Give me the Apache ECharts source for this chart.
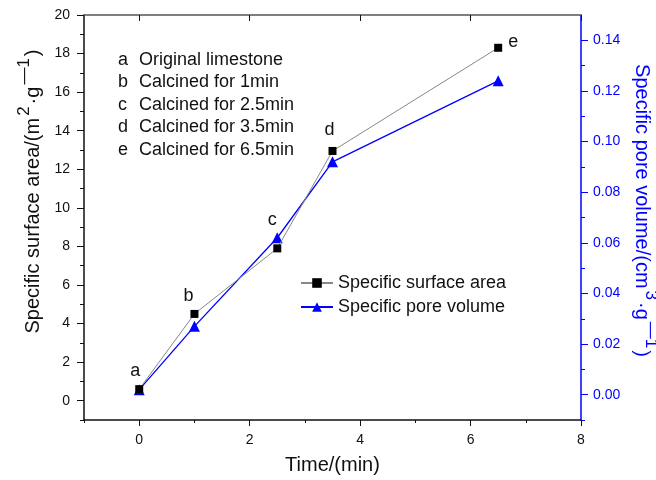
<!DOCTYPE html>
<html>
<head>
<meta charset="utf-8">
<title>Specific surface area / pore volume</title>
<script src="https://cdn.jsdelivr.net/npm/echarts@6/dist/echarts.min.js"></script>
<style>
  html, body { margin: 0; padding: 0; background: #fff; }
  #chart { width: 656px; height: 480px; }
</style>
</head>
<body>
<div id="chart"></div>
<script>
  // calcination time (min)
  var times = [0, 1, 2.5, 3.5, 6.5];
  var pointLetters = ['a', 'b', 'c', 'd', 'e'];
  // m2/g
  var surfaceArea = [0.6, 4.5, 7.9, 12.95, 18.3];
  // cm3/g
  var poreVolume = [0.002, 0.027, 0.062, 0.092, 0.124];

  var xTicks = [0, 2, 4, 6, 8];
  var xMinorTicks = [-1, 1, 3, 5, 7];
  var leftTicks = [0, 2, 4, 6, 8, 10, 12, 14, 16, 18, 20];
  var leftMinorTicks = [-1, 1, 3, 5, 7, 9, 11, 13, 15, 17, 19];
  var rightTicks = [0, 0.02, 0.04, 0.06, 0.08, 0.10, 0.12, 0.14];
  var rightMinorTicks = [-0.01, 0.01, 0.03, 0.05, 0.07, 0.09, 0.11, 0.13];

  var noteLetters = ['a', 'b', 'c', 'd', 'e'];
  var noteTexts = ['Original limestone', 'Calcined for 1min', 'Calcined for 2.5min',
                   'Calcined for 3.5min', 'Calcined for 6.5min'];

  var FONT = "'Liberation Sans', Arial, sans-serif";
  var BLUE = '#0000ff';
  var INK = '#111';

  var chart = echarts.init(document.getElementById('chart'));

  // where the a..e letters sit around each square
  var labelPlace = [
    {position: 'top', offset: [-4, 0]},
    {position: 'top', offset: [-6, 0]},
    {position: 'top', offset: [-5, -10]},
    {position: 'top', offset: [-3, -3]},
    {position: 'right', offset: [1, -6]}
  ];

  var surfData = times.map(function (t, i) {
    return {
      value: [t, surfaceArea[i]],
      label: {
        show: true,
        formatter: pointLetters[i],
        position: labelPlace[i].position,
        offset: labelPlace[i].offset,
        distance: 5,
        color: INK,
        fontSize: 18,
        fontFamily: FONT
      }
    };
  });
  var poreData = times.map(function (t, i) { return [t, poreVolume[i]]; });

  var notes = [];
  noteLetters.forEach(function (l, i) {
    notes.push({
      type: 'text', left: 118, top: 51 + i * 22.5,
      style: {text: l, fontSize: 18, fontFamily: FONT, fill: INK}
    });
    notes.push({
      type: 'text', left: 139, top: 51 + i * 22.5,
      style: {text: noteTexts[i], fontSize: 18, fontFamily: FONT, fill: INK}
    });
  });

  function minorAxis(base, ticks, len, color) {
    return Object.assign({}, base, {
      axisLine: {show: false, onZero: false},
      axisLabel: {show: false},
      splitLine: {show: false},
      axisTick: {show: true, inside: false, length: len, customValues: ticks,
                 lineStyle: {color: color, width: 1}}
    });
  }

  // rich styles for the rotated axis titles with superscripts
  function titleRich(color) {
    return {
      n: {fontSize: 20, fontFamily: FONT, color: color, lineHeight: 28, verticalAlign: 'bottom'},
      s: {fontSize: 17, fontFamily: FONT, color: color, lineHeight: 14, verticalAlign: 'top',
          padding: [0, 2, 0, 2]}
    };
  }

  var bottomX = {type: 'value', position: 'bottom', min: -1, max: 8};
  var leftY = {type: 'value', position: 'left', min: -1, max: 20};
  var rightY = {type: 'value', position: 'right', min: -0.01, max: 0.15};

  chart.setOption({
    animation: false,
    backgroundColor: '#fff',
    textStyle: {fontFamily: FONT},
    grid: {left: 84, right: 75, top: 15, bottom: 60, containLabel: false, outerBoundsMode: 'none'},
    graphic: notes,
    legend: {
      orient: 'vertical',
      left: 295, top: 269,
      itemWidth: 32, itemHeight: 12, itemGap: 6,
      textStyle: {fontSize: 18, fontFamily: FONT, color: INK},
      data: ['Specific surface area', 'Specific pore volume']
    },
    xAxis: [
      Object.assign({}, bottomX, {
        name: 'Time/(min)',
        nameLocation: 'middle',
        nameGap: 35,
        nameTextStyle: {fontSize: 20, fontFamily: FONT, color: INK},
        axisLine: {onZero: false, lineStyle: {color: INK, width: 1.5}},
        axisTick: {show: true, inside: false, length: 6, customValues: xTicks,
                   lineStyle: {color: INK, width: 1}},
        axisLabel: {customValues: xTicks, margin: 13, fontSize: 14, color: INK},
        splitLine: {show: false}
      }),
      minorAxis(bottomX, xMinorTicks, 3, INK),
      {
        type: 'value', position: 'top', min: -1, max: 8,
        axisLine: {onZero: false, lineStyle: {color: '#555', width: 1.5}},
        axisTick: {show: true, inside: true, length: 6, customValues: xTicks,
                   lineStyle: {color: INK, width: 1}},
        axisLabel: {show: false},
        splitLine: {show: false}
      }
    ],
    yAxis: [
      Object.assign({}, leftY, {
        name: '{n|Specific surface area/(m}{s|2}{n|·g}{s|—1}{n|)}',
        nameLocation: 'middle',
        nameRotate: 90,
        nameGap: 39,
        nameTextStyle: {padding: [0, 0, 0, 52], rich: titleRich(INK)},
        axisLine: {show: true, onZero: false, lineStyle: {color: INK, width: 1.5}},
        axisTick: {show: true, inside: false, length: 7, customValues: leftTicks,
                   lineStyle: {color: INK, width: 1}},
        axisLabel: {customValues: leftTicks, margin: 14, fontSize: 14, color: INK},
        splitLine: {show: false}
      }),
      minorAxis(leftY, leftMinorTicks, 4, INK),
      Object.assign({}, rightY, {
        name: '{n|Specific pore volume/(cm}{s|3}{n|·g}{s|—1}{n|)}',
        nameLocation: 'middle',
        nameRotate: -90,
        nameGap: 46,
        nameTextStyle: {padding: [0, 14, 0, 0], rich: titleRich(BLUE)},
        axisLine: {show: true, onZero: false, lineStyle: {color: BLUE, width: 1.5}},
        axisTick: {show: true, inside: false, length: 7, customValues: rightTicks,
                   lineStyle: {color: BLUE, width: 1}},
        axisLabel: {
          customValues: rightTicks, margin: 12, fontSize: 14, color: BLUE,
          formatter: function (v) { return v.toFixed(2); }
        },
        splitLine: {show: false}
      }),
      minorAxis(rightY, rightMinorTicks, 4, BLUE)
    ],
    series: [
      {
        name: 'Specific surface area',
        type: 'line',
        xAxisIndex: 0,
        yAxisIndex: 0,
        symbol: 'rect',
        symbolSize: 8,
        itemStyle: {color: '#000'},
        lineStyle: {color: '#888', width: 1},
        data: surfData,
        z: 3
      },
      {
        name: 'Specific pore volume',
        type: 'line',
        xAxisIndex: 0,
        yAxisIndex: 2,
        symbol: 'triangle',
        symbolSize: 11,
        itemStyle: {color: BLUE},
        lineStyle: {color: BLUE, width: 1.3},
        data: poreData,
        z: 2
      }
    ]
  });
</script>
</body>
</html>
